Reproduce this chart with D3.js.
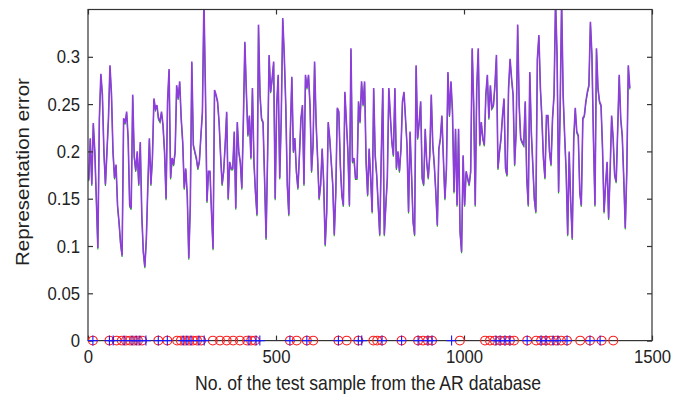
<!DOCTYPE html>
<html>
<head>
<meta charset="utf-8">
<script src="https://cdn.jsdelivr.net/npm/d3@7"></script>
<style>
  body { margin: 0; background: #fff; }
  svg text { font-family: "Liberation Sans", Arial, sans-serif; fill: #222; }
</style>
</head>
<body>
<svg id="chart" width="690" height="397"></svg>
<script>
// representation error per test sample (left to right)
const errorValues = [
  // 0 - 240
  .17,.214,.165,.23,.20,.15,.098,.235,.282,.26,.20,.165,.20,.235,.291,.26,.20,.172,.186,.143,
  .125,.103,.09,.235,.23,.242,.214,.143,.14,.26,.195,.18,.2,.165,.21,.133,.094,.078,.108,.165,
  .214,.165,.193,.256,.245,.249,.235,.232,.242,.228,.2,.15,.253,.287,.172,.193,.186,.2,.27,.256,
  // 240 - 485
  .274,.235,.21,.161,.182,.154,.087,.143,.295,.207,.2,.193,.182,.19,.217,.242,.36,.263,.147,.179,
  .179,.136,.097,.265,.26,.253,.231,.196,.165,.179,.207,.242,.15,.189,.182,.182,.221,.14,.231,.2,
  .189,.161,.231,.316,.263,.217,.238,.193,.267,.189,.157,.133,.334,.26,.235,.231,.172,.108,.196,.302,
  .263,
  // 485 - 730
  .277,.295,.15,.249,.281,.172,.235,.341,.302,.249,.165,.133,.221,.279,.2,.214,.179,.161,.196,.235,
  .249,.165,.281,.267,.281,.249,.179,.207,.295,.231,.193,.15,.165,.203,.168,.101,.136,.231,.214,.189,
  .165,.112,.157,.246,.242,.186,.154,.143,.263,.231,.2,.143,.309,.189,.193,.172,.172,.253,.231,.274,
  .249,
  // 730 - 975
  .274,.189,.154,.203,.172,.136,.267,.196,.175,.143,.112,.196,.267,.112,.143,.172,.267,.238,.21,.196,
  .267,.182,.2,.179,.203,.253,.263,.235,.207,.136,.221,.175,.126,.112,.291,.214,.231,.253,.172,.165,
  .224,.189,.172,.196,.26,.207,.186,.157,.122,.203,.214,.238,.193,.15,.182,.284,.238,.274,.242,.157,
  .224,
  // 975 - 1220
  .143,.224,.115,.094,.196,.143,.179,.172,.165,.179,.309,.249,.143,.267,.309,.207,.231,.214,.207,.26,
  .281,.235,.27,.246,.249,.27,.302,.182,.2,.214,.238,.256,.182,.175,.267,.298,.277,.26,.186,.221,
  .334,.249,.214,.21,.207,.253,.172,.143,.284,.221,.186,.15,.136,.298,.323,.267,.235,.193,.172,.238,
  // 1220 - 1441
  .238,.2,.186,.235,.26,.36,.302,.157,.242,.36,.26,.217,.179,.112,.2,.147,.108,.214,.246,.221,
  .217,.157,.143,.235,.238,.253,.263,.27,.337,.302,.214,.143,.309,.267,.253,.249,.203,.136,.165,.189,
  .129,.179,.238,.214,.175,.168,.224,.281,.235,.217,.172,.119,.179,.291,.267
];
const firstSample = 2;
const lastSample = 1441;

// test samples marked on the zero line
const circleSamples = [13,57,76,90,101,112,122,133,144,187,211,237,247,258,269,279,290,301,332,351,
  369,386,404,423,434,444,537,555,582,599,666,688,719,759,769,782,834,878,891,904,915,989,
  1056,1069,1082,1096,1109,1122,1133,1168,1192,1205,1218,1231,1245,1258,1274,1309,1335,1366,1397];
const plusSamples = [13,57,67,96,117,128,138,154,187,211,253,263,274,295,309,428,447,457,537,582,
  666,719,728,782,834,878,904,915,967,1085,1096,1109,1122,1168,1205,1218,1237,1250,1274,1335,1362];

const xTicks = [0, 500, 1000, 1500];
const yTicks = [0, 0.05, 0.1, 0.15, 0.2, 0.25, 0.3];

const margin = {top: 9.5, right: 38, bottom: 56.4, left: 88};
const svg = d3.select('#chart');
const width = +svg.attr('width') - margin.left - margin.right;
const height = +svg.attr('height') - margin.top - margin.bottom;

// the source figure was squeezed sideways, so text is narrowed a bit
const squeeze = 0.88;

const x = d3.scaleLinear().domain([0, 1500]).range([0, width]);
const y = d3.scaleLinear().domain([0, 0.35]).range([height, 0]);

const g = svg.append('g').attr('transform', 'translate(' + margin.left + ',' + margin.top + ')');

svg.append('defs').append('clipPath').attr('id', 'plotclip')
  .append('rect').attr('width', width).attr('height', height);

const step = (lastSample - firstSample) / (errorValues.length - 1);
const pts = errorValues.map((v, i) => ({s: firstSample + i * step, v: v}));

const line = d3.line().x(d => x(d.s)).y(d => y(d.v));

const lines = g.append('g').attr('clip-path', 'url(#plotclip)');
// second method, nearly identical, peeks out below the purple one
lines.append('path').datum(pts)
  .attr('d', line)
  .attr('transform', 'translate(0,1.5)')
  .attr('fill', 'none')
  .attr('stroke', '#22a022')
  .attr('stroke-width', 1.1);
lines.append('path').datum(pts)
  .attr('d', line)
  .attr('fill', 'none')
  .attr('stroke', '#8d3ddb')
  .attr('stroke-width', 1.6);

// box and axes (MATLAB style, inward ticks on every side)
g.append('rect').attr('width', width).attr('height', height)
  .attr('fill', 'none').attr('stroke', '#333').attr('stroke-width', 1.2);

const xAxis = g.append('g').attr('transform', 'translate(0,' + height + ')')
  .call(d3.axisBottom(x).tickValues(xTicks).tickSizeInner(-5).tickSizeOuter(0).tickPadding(9).tickFormat(d3.format('d')));
const xTop = g.append('g')
  .call(d3.axisTop(x).tickValues(xTicks).tickSizeInner(-5).tickSizeOuter(0).tickFormat(''));
const yAxis = g.append('g')
  .call(d3.axisLeft(y).tickValues(yTicks).tickSizeInner(-5).tickSizeOuter(0).tickPadding(8).tickFormat(d3.format('~g')));
const yRight = g.append('g').attr('transform', 'translate(' + width + ',0)')
  .call(d3.axisRight(y).tickValues(yTicks).tickSizeInner(-5).tickSizeOuter(0).tickFormat(''));

[xAxis, xTop, yAxis, yRight].forEach(a => {
  a.select('.domain').remove();
  a.selectAll('line').attr('stroke', '#333').attr('stroke-width', 1.2);
  a.selectAll('text').style('font-size', '19px').attr('fill', '#222');
});
xAxis.selectAll('text').attr('dy', '0.72em').attr('transform', 'scale(' + squeeze + ',1)');
yAxis.selectAll('text').each(function() {
  const t = d3.select(this);
  t.attr('x', +t.attr('x') / squeeze).attr('transform', 'scale(' + squeeze + ',1)');
});

// markers on the zero line
g.selectAll('.circ').data(circleSamples).enter().append('circle')
  .attr('class', 'circ')
  .attr('cx', d => x(d)).attr('cy', y(0)).attr('r', 4.4)
  .attr('fill', 'none').attr('stroke', '#ff1a1a').attr('stroke-width', 1.1);
g.selectAll('.plus').data(plusSamples).enter().append('path')
  .attr('class', 'plus')
  .attr('d', d => 'M' + (x(d) - 5) + ',' + y(0) + 'H' + (x(d) + 5) + 'M' + x(d) + ',' + (y(0) - 5) + 'V' + (y(0) + 5))
  .attr('fill', 'none').attr('stroke', '#1a1aff').attr('stroke-width', 1.1);

// axis titles
svg.append('text')
  .attr('transform', 'translate(29,' + (margin.top + height / 2 - 3) + ') rotate(-90) scale(1,' + squeeze + ')')
  .attr('text-anchor', 'middle')
  .style('font-size', '20.5px')
  .text('Representation error');
svg.append('text')
  .attr('transform', 'translate(' + (margin.left + width / 2 - 2) + ',390) scale(' + squeeze + ',1)')
  .attr('text-anchor', 'middle')
  .style('font-size', '20px')
  .text('No. of the test sample from the AR database');
</script>
</body>
</html>
